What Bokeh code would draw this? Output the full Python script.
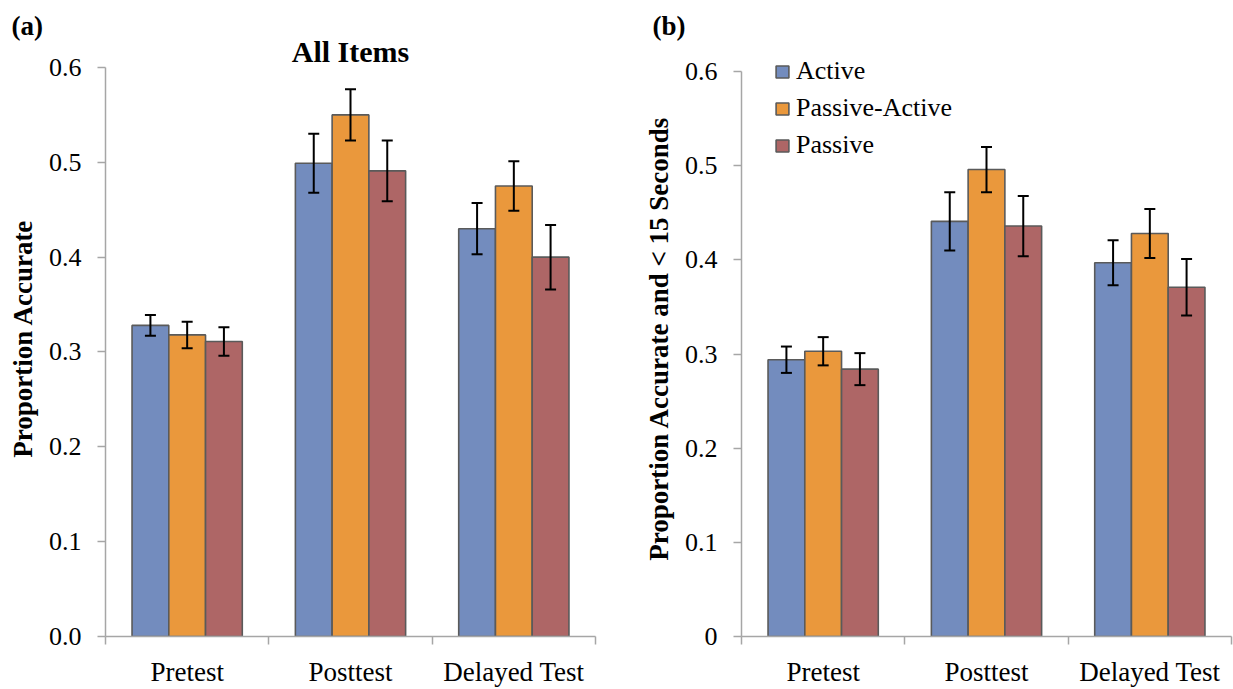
from bokeh.plotting import figure
from bokeh.models import (ColumnDataSource, FixedTicker, Whisker, TeeHead, Legend,
                          LegendItem, Range1d, Title, Label)
from bokeh.layouts import row
from bokeh.embed import file_html
from bokeh.resources import INLINE

categories = ["Pretest", "Posttest", "Delayed Test"]
series = ["Active", "Passive-Active", "Passive"]
colors = ["#738cbe", "#ea983c", "#ae6666"]

# (a) All Items
a_active = [0.328, 0.499, 0.430]
a_passive_active = [0.318, 0.550, 0.475]
a_passive = [0.311, 0.491, 0.400]
a_err_active = [0.011, 0.031, 0.027]
a_err_passive_active = [0.014, 0.027, 0.026]
a_err_passive = [0.015, 0.032, 0.034]

# (b) Accurate and < 15 seconds
b_active = [0.294, 0.441, 0.397]
b_passive_active = [0.303, 0.496, 0.428]
b_passive = [0.284, 0.436, 0.371]
b_err_active = [0.014, 0.031, 0.024]
b_err_passive_active = [0.015, 0.024, 0.026]
b_err_passive = [0.017, 0.032, 0.030]

y_ticks = [0.0, 0.1, 0.2, 0.3, 0.4, 0.5, 0.6]
a_tick_labels = ["0.0", "0.1", "0.2", "0.3", "0.4", "0.5", "0.6"]
b_tick_labels = ["0", "0.1", "0.2", "0.3", "0.4", "0.5", "0.6"]

FONT = "Liberation Serif"
AXIS_COLOR = "#a6a6a6"
BAR_W = 0.225
OFFSETS = [-BAR_W, 0.0, BAR_W]
FRAME_TOP = 40   # px; both frames share the same top in a row layout


def make_panel(width, border_left, border_right, px_per_unit, values, errors,
               ylabel, tick_labels, panel_tag, title=None, legend=False):
    # extend the visible range a little above 0.6 so that the title / legend fit
    axis_top_px = 637 - 0.6 * px_per_unit
    y_end = 0.6 + (axis_top_px - FRAME_TOP) / px_per_unit
    p = figure(width=width, height=689, x_range=Range1d(0, 3), y_range=Range1d(0, y_end),
               output_backend="svg", toolbar_location=None,
               min_border_left=border_left, min_border_right=border_right,
               min_border_top=FRAME_TOP, min_border_bottom=52)
    p.outline_line_color = None
    p.xgrid.visible = False
    p.ygrid.visible = False
    p.background_fill_color = "white"
    p.border_fill_color = "white"

    renderers = []
    for i, (vals, errs) in enumerate(zip(values, errors)):
        xs = [j + 0.5 + OFFSETS[i] for j in range(len(categories))]
        src = ColumnDataSource(dict(
            x=xs, top=vals,
            upper=[v + e for v, e in zip(vals, errs)],
            lower=[v - e for v, e in zip(vals, errs)]))
        r = p.vbar(x="x", top="top", width=BAR_W, bottom=0, source=src,
                   fill_color=colors[i], line_color="#5a5a5a", line_width=1.6)
        renderers.append(r)
        w = Whisker(source=src, base="x", upper="upper", lower="lower",
                    line_color="black", line_width=2, level="overlay",
                    upper_head=TeeHead(size=11, line_color="black", line_width=2),
                    lower_head=TeeHead(size=11, line_color="black", line_width=2))
        p.add_layout(w)

    # x axis
    p.xaxis.ticker = FixedTicker(ticks=[j + 0.5 for j in range(len(categories))],
                                 minor_ticks=[0, 1, 2, 3])
    p.xaxis.major_label_overrides = {j + 0.5: c for j, c in enumerate(categories)}
    p.xaxis.major_tick_out = 0
    p.xaxis.major_tick_in = 0
    p.xaxis.minor_tick_out = 8
    p.xaxis.minor_tick_in = 0
    p.xaxis.minor_tick_line_color = AXIS_COLOR
    p.xaxis.axis_line_color = AXIS_COLOR
    p.xaxis.axis_line_width = 1.5
    p.xaxis.minor_tick_line_width = 1.5
    p.xaxis.major_label_standoff = 12
    p.xaxis.major_label_text_font = FONT
    p.xaxis.major_label_text_font_size = "27px"
    p.xaxis.major_label_text_color = "black"

    # y axis
    p.yaxis.ticker = FixedTicker(ticks=y_ticks, minor_ticks=[])
    p.yaxis.bounds = (0, 0.6)
    p.yaxis.major_label_overrides = {t: l for t, l in zip(y_ticks, tick_labels)}
    p.yaxis.major_tick_out = 8
    p.yaxis.major_tick_in = 0
    p.yaxis.major_tick_line_color = AXIS_COLOR
    p.yaxis.major_tick_line_width = 1.5
    p.yaxis.axis_line_color = AXIS_COLOR
    p.yaxis.axis_line_width = 1.5
    p.yaxis.major_label_standoff = 16
    p.yaxis.major_label_text_font = FONT
    p.yaxis.major_label_text_font_size = "26px"
    p.yaxis.major_label_text_color = "black"
    p.yaxis.axis_label = ylabel
    p.yaxis.axis_label_text_font = FONT
    p.yaxis.axis_label_text_font_style = "bold"
    p.yaxis.axis_label_text_font_size = "27px"
    p.yaxis.axis_label_text_color = "black"
    p.yaxis.axis_label_standoff = 8

    if title:
        p.add_layout(Label(x=1.5, y=(637 - 51) / px_per_unit, text=title,
                           text_font=FONT, text_font_style="bold",
                           text_font_size="30px", text_color="black",
                           text_align="center", text_baseline="middle"))
    p.add_layout(Title(text=panel_tag, align="left", offset=-(border_left - 11),
                       text_font=FONT, text_font_style="bold", text_font_size="27px",
                       text_color="black", standoff=0, text_line_height=1.0),
                 "above")

    if legend:
        items = [LegendItem(label=s, renderers=[r]) for s, r in zip(series, renderers)]
        lg = Legend(items=items, location=(33, 476), orientation="vertical",
                    background_fill_alpha=0, border_line_color=None,
                    label_text_font=FONT, label_text_font_size="26px",
                    label_text_color="black", glyph_width=16, glyph_height=15,
                    label_height=30, spacing=7, padding=0, margin=0,
                    label_standoff=6)
        p.add_layout(lg, "center")
    return p


pa = make_panel(640, 105, 45, 950,
                [a_active, a_passive_active, a_passive],
                [a_err_active, a_err_passive_active, a_err_passive],
                "Proportion Accurate", a_tick_labels, "(a)", title="All Items")
pb = make_panel(593, 100, 2, 943,
                [b_active, b_passive_active, b_passive],
                [b_err_active, b_err_passive_active, b_err_passive],
                "Proportion Accurate and < 15 Seconds", b_tick_labels, "(b)",
                legend=True)

layout = row(pa, pb)
open("out.html", "w").write(file_html(layout, INLINE))
